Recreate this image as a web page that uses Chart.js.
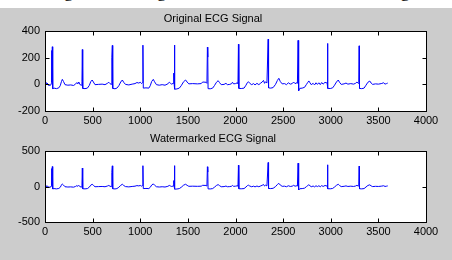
<!DOCTYPE html>
<html>
<head>
<meta charset="utf-8">
<script src="https://cdn.jsdelivr.net/npm/chart.js@4"></script>
<style>
  html, body { margin: 0; padding: 0; }
  body { width: 452px; height: 260px; background: #cccccc; position: relative; overflow: hidden; }
  #caption { position: absolute; left: 0; top: 0; width: 452px; height: 8px; background: #fff; overflow: hidden; }
  #caption span { position: absolute; left: 40px; top: -19px; font: 18px "Liberation Serif", "DejaVu Serif", serif; white-space: nowrap; color: #000; }
  canvas { position: absolute; left: 0; }
  #top { top: 0; }
  #bottom { top: 120px; }
</style>
</head>
<body>
<div id="caption"><span>Original ECG signal and the watermarked ECG signal</span></div>
<canvas id="top" width="452" height="130"></canvas>
<canvas id="bottom" width="452" height="121"></canvas>
<script>
// sample index / amplitude pairs
const ecgOriginal = [
  [0, 5], [8, 18], [14, -2], [24, 10], [34, -6], [50, -8], [62, -4], [66, 8], [70, 255], [73, 15],
  [77, 283], [81, -32], [95, -28], [120, -32], [145, -26], [160, -10], [172, 20], [182, 38], [194, 22], [210, -2],
  [240, -6], [270, -4], [300, -8], [320, 2], [335, 14], [345, 4], [355, 18], [365, 0], [380, -6], [388, 20],
  [392, 262], [396, -30], [420, -32], [445, -28], [465, -8], [480, 20], [495, 33], [508, 18], [525, -2], [560, 0],
  [600, 2], [630, -2], [655, 8], [670, 16], [682, 6], [695, 0], [700, 15], [703, 200], [707, 293], [711, -30],
  [735, -33], [755, -28], [775, -10], [795, 18], [812, 33], [826, 16], [845, 0], [880, -4], [915, 2], [945, 6],
  [965, 14], [985, 10], [1000, 16], [1015, 6], [1024, 14], [1028, 295], [1032, -28], [1060, -26], [1090, -28], [1105, -10],
  [1120, 22], [1137, 38], [1150, 20], [1170, -2], [1200, -6], [1230, -2], [1260, -6], [1290, 4], [1305, 17], [1318, 8],
  [1330, 2], [1345, 8], [1352, 85], [1355, 10], [1359, 296], [1363, -36], [1385, -34], [1410, -28], [1430, -10], [1455, 20],
  [1476, 33], [1492, 18], [1510, 4], [1550, 6], [1600, 4], [1640, 6], [1655, 18], [1690, 16], [1700, 8], [1705, 280],
  [1709, 205], [1712, -32], [1735, -33], [1760, -28], [1780, -8], [1800, 16], [1818, 28], [1832, 14], [1850, -2], [1880, 0],
  [1900, 8], [1915, -2], [1940, 0], [1960, 6], [1968, 16], [1980, 4], [2000, 6], [2020, 12], [2026, 6], [2031, 302],
  [2035, -30], [2060, -31], [2090, -28], [2110, -6], [2125, 14], [2136, 20], [2150, 8], [2170, -2], [2190, 6], [2205, -4],
  [2225, 8], [2245, -2], [2265, 10], [2280, 18], [2294, 30], [2305, 8], [2316, 20], [2330, 10], [2343, 340], [2347, -26],
  [2370, -28], [2395, -24], [2420, 0], [2440, 30], [2455, 46], [2470, 22], [2490, 4], [2515, 6], [2535, -2], [2555, 12],
  [2575, 2], [2595, 6], [2610, 18], [2625, 6], [2645, 12], [2650, 8], [2657, 331], [2661, -20], [2665, -48], [2675, -30],
  [2700, -28], [2725, -22], [2745, 0], [2760, 16], [2770, 26], [2782, 12], [2795, -2], [2815, 8], [2830, -4], [2845, 12],
  [2860, 0], [2875, 12], [2890, -2], [2905, 14], [2920, 2], [2940, 16], [2955, 10], [2962, 16], [2965, 308], [2968, 120],
  [2971, -30], [2995, -31], [3020, -26], [3040, -6], [3060, 18], [3079, 33], [3092, 16], [3110, 0], [3140, 4], [3160, 10],
  [3180, 2], [3210, 6], [3240, 2], [3260, 8], [3275, 18], [3288, 8], [3294, 14], [3298, 290], [3302, -30], [3325, -32],
  [3350, -28], [3370, -6], [3390, 16], [3410, 25], [3424, 10], [3440, 0], [3470, 4], [3500, 2], [3530, 6], [3555, 12],
  [3570, 2], [3585, 6], [3598, 10]
];
// the watermarked trace is indistinguishable from the original at this scale
const ecgWatermarked = ecgOriginal.slice();

const xTicks = [0, 500, 1000, 1500, 2000, 2500, 3000, 3500, 4000];
const yTicksTop = [-200, 0, 200, 400];
const yTicksBottom = [-500, 0, 500];

const FONT = '"Liberation Sans", Arial, sans-serif';

// white plot box, black frame and inward tick marks like matlab axes
const matlabAxes = {
  id: 'matlabAxes',
  beforeDatasetsDraw(chart) {
    const { ctx, chartArea: a } = chart;
    ctx.save();
    ctx.fillStyle = '#fff';
    ctx.fillRect(a.left, a.top, a.right - a.left, a.bottom - a.top);
    ctx.restore();
  },
  afterDatasetsDraw(chart) {
    const { ctx, chartArea: a, scales: { x, y } } = chart;
    const L = Math.round(a.left) + 0.5, R = Math.round(a.right) + 0.5;
    const T = Math.round(a.top) + 0.5, B = Math.round(a.bottom) + 0.5;
    ctx.save();
    ctx.strokeStyle = '#000';
    ctx.lineWidth = 1;
    ctx.beginPath();
    x.ticks.forEach(t => {
      const px = Math.round(x.getPixelForValue(t.value)) + 0.5;
      ctx.moveTo(px, T); ctx.lineTo(px, T + 4);
      ctx.moveTo(px, B); ctx.lineTo(px, B - 4);
    });
    y.ticks.forEach(t => {
      const py = Math.round(y.getPixelForValue(t.value)) + 0.5;
      ctx.moveTo(L, py); ctx.lineTo(L + 4, py);
      ctx.moveTo(R, py); ctx.lineTo(R - 4, py);
    });
    ctx.stroke();
    ctx.strokeRect(L, T, R - L, B - T);
    ctx.restore();
  }
};

function makeChart(id, title, points, yMin, yMax, yTicks) {
  const ctx = document.getElementById(id).getContext('2d');
  return new Chart(ctx, {
    type: 'line',
    data: {
      datasets: [{
        data: points.map(p => ({ x: p[0], y: p[1] })),
        borderColor: '#0000ff',
        borderWidth: 1,
        pointRadius: 0,
        tension: 0,
        fill: false
      }]
    },
    options: {
      responsive: false,
      animation: false,
      events: [],
      layout: { padding: { left: 0, right: 26, top: 0, bottom: 0 } },
      plugins: {
        legend: { display: false },
        tooltip: { enabled: false },
        title: {
          display: true,
          text: title,
          color: '#000',
          font: { family: FONT, size: 11, weight: 'normal' },
          padding: { top: 12, bottom: 6 }
        }
      },
      scales: {
        x: {
          type: 'linear',
          min: 0,
          max: 4000,
          afterBuildTicks: s => { s.ticks = xTicks.map(v => ({ value: v })); },
          afterFit: s => { s.height = 19; },
          grid: { display: false, drawTicks: false },
          border: { display: false },
          ticks: { color: '#000', font: { family: FONT, size: 11 }, padding: 3, maxRotation: 0, callback: v => String(v) }
        },
        y: {
          min: yMin,
          max: yMax,
          afterBuildTicks: s => { s.ticks = yTicks.map(v => ({ value: v })); },
          afterFit: s => { s.width = 45; },
          grid: { display: false, drawTicks: false },
          border: { display: false },
          ticks: { color: '#000', font: { family: FONT, size: 11 }, padding: 5, callback: v => String(v) }
        }
      }
    },
    plugins: [matlabAxes]
  });
}

makeChart('top', 'Original ECG Signal', ecgOriginal, -200, 400, yTicksTop);
makeChart('bottom', 'Watermarked ECG Signal', ecgWatermarked, -500, 500, yTicksBottom);
</script>
</body>
</html>
